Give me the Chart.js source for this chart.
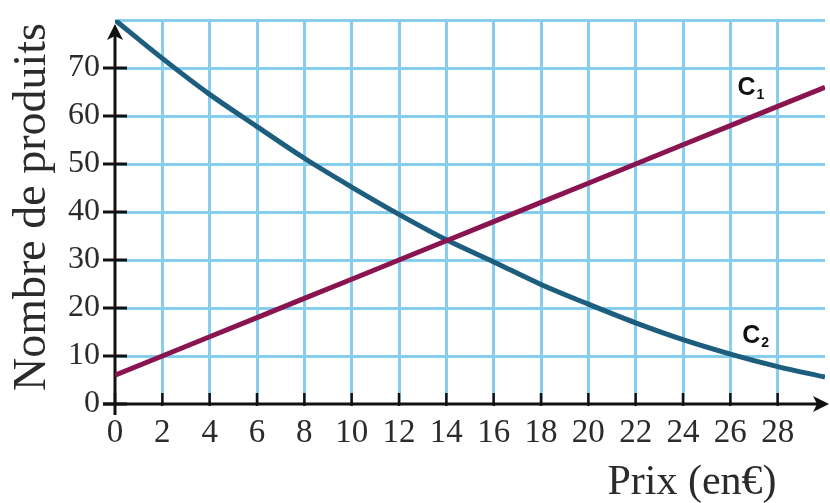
<!DOCTYPE html>
<html>
<head>
<meta charset="utf-8">
<script src="https://cdn.jsdelivr.net/npm/chart.js@4"></script>
<style>
  body { margin: 0; background: #fff; }
  #wrap { width: 830px; height: 503px; }
</style>
</head>
<body>
<div id="wrap"><canvas id="prixChart"></canvas></div>
<script>
"use strict";

// values
const prix = [0, 2, 4, 6, 8, 10, 12, 14, 16, 18, 20, 22, 24, 26, 28, 30];
const c1 = [6, 10, 14, 18, 22, 26, 30, 34, 38, 42, 46, 50, 54, 58, 62, 66];
const c2 = [80, 72, 64.5, 57.8, 51.2, 45.2, 39.5, 34.2, 29.6, 24.9, 20.8, 16.9, 13.4, 10.4, 7.8, 5.6];

const xTickLabels = ["0", "2", "4", "6", "8", "10", "12", "14", "16", "18", "20", "22", "24", "26", "28"];
const yTickLabels = ["0", "10", "20", "30", "40", "50", "60", "70"];

const xTitle = "Prix (en€)";
const yTitle = "Nombre de produits";

const gridBlue = "#86cdee";
const textGrey = "#2b2b2b";
const serif = "'Liberation Serif', 'DejaVu Serif', serif";

function points(ys) {
  return prix.map((x, i) => ({ x: x, y: ys[i] }));
}

// axes with arrows, tick marks, titles and curve names
const decorPlugin = {
  id: "decor",
  beforeDatasetsDraw(chart) {
    const { ctx, chartArea, scales } = chart;
    const x0 = scales.x.getPixelForValue(0);
    const y0 = scales.y.getPixelForValue(0);
    ctx.save();
    ctx.strokeStyle = "#111";
    ctx.fillStyle = "#111";
    ctx.lineWidth = 3;

    // tick marks
    yTickLabels.forEach((t) => {
      const y = scales.y.getPixelForValue(Number(t));
      ctx.beginPath();
      ctx.moveTo(x0 - 12, y);
      ctx.lineTo(x0 + 12, y);
      ctx.stroke();
    });
    ctx.lineWidth = 2.5;
    xTickLabels.forEach((t) => {
      const x = scales.x.getPixelForValue(Number(t));
      ctx.beginPath();
      ctx.moveTo(x, y0 - 11);
      ctx.lineTo(x, y0 + 2);
      ctx.stroke();
    });

    // y axis
    ctx.lineWidth = 3;
    ctx.beginPath();
    ctx.moveTo(x0, y0 + 11);
    ctx.lineTo(x0, chartArea.top + 14);
    ctx.stroke();
    ctx.beginPath();
    ctx.moveTo(x0, chartArea.top + 4);
    ctx.lineTo(x0 - 8, chartArea.top + 20);
    ctx.lineTo(x0, chartArea.top + 16);
    ctx.lineTo(x0 + 8, chartArea.top + 20);
    ctx.closePath();
    ctx.fill();

    // x axis
    const xr = chart.width - 1;
    ctx.beginPath();
    ctx.moveTo(x0 - 12, y0);
    ctx.lineTo(xr - 10, y0);
    ctx.stroke();
    ctx.beginPath();
    ctx.moveTo(xr, y0);
    ctx.lineTo(xr - 16, y0 - 8);
    ctx.lineTo(xr - 12, y0);
    ctx.lineTo(xr - 16, y0 + 8);
    ctx.closePath();
    ctx.fill();
    ctx.restore();
  },
  afterDraw(chart) {
    const { ctx, scales } = chart;
    ctx.save();
    ctx.fillStyle = textGrey;

    // y title
    ctx.font = "46px " + serif;
    ctx.textAlign = "center";
    ctx.textBaseline = "middle";
    ctx.translate(33, 207);
    ctx.rotate(-Math.PI / 2);
    ctx.fillText(yTitle, 0, 0);
    ctx.setTransform(1, 0, 0, 1, 0, 0);

    // x title
    ctx.font = "42px " + serif;
    ctx.textAlign = "center";
    ctx.textBaseline = "alphabetic";
    ctx.fillText(xTitle, 692, 494);

    // curve names
    const names = [
      { main: "C", sub: "1", x: 26.3, y: 64.3 },
      { main: "C", sub: "2", x: 26.5, y: 12.7 },
    ];
    ctx.fillStyle = "#111";
    ctx.textAlign = "left";
    names.forEach((n) => {
      const px = scales.x.getPixelForValue(n.x);
      const py = scales.y.getPixelForValue(n.y);
      ctx.font = "bold 25px 'Liberation Sans', Arial, sans-serif";
      ctx.fillText(n.main, px, py);
      const w = ctx.measureText(n.main).width;
      ctx.font = "bold 14px 'Liberation Sans', Arial, sans-serif";
      ctx.fillText(n.sub, px + w + 1, py + 4);
    });
    ctx.restore();
  },
};

const ctx = document.getElementById("prixChart").getContext("2d");

new Chart(ctx, {
  type: "line",
  data: {
    datasets: [
      {
        label: "C1",
        data: points(c1),
        borderColor: "#8a1450",
        borderWidth: 5,
        pointRadius: 0,
        tension: 0,
      },
      {
        label: "C2",
        data: points(c2),
        borderColor: "#1d5e7e",
        borderWidth: 5,
        pointRadius: 0,
        cubicInterpolationMode: "monotone",
      },
    ],
  },
  options: {
    responsive: true,
    maintainAspectRatio: false,
    animation: false,
    layout: { padding: { left: 0, right: 5, top: 20, bottom: 0 } },
    plugins: {
      legend: { display: false },
      tooltip: { enabled: false },
    },
    scales: {
      x: {
        type: "linear",
        min: 0,
        max: 30,
        afterFit: (scale) => {
          scale.height = 99;
          scale.paddingLeft = 0;
          scale.paddingRight = 0;
        },
        border: { display: false },
        grid: {
          drawTicks: false,
          lineWidth: 3,
          color: (c) => (c.tick.value === 0 || c.tick.value === 30 ? "rgba(0,0,0,0)" : gridBlue),
        },
        ticks: {
          stepSize: 2,
          maxRotation: 0,
          autoSkip: false,
          padding: 10,
          color: textGrey,
          font: { family: serif, size: 33 },
          callback: (v) => (xTickLabels.includes(String(v)) ? String(v) : ""),
        },
      },
      y: {
        min: 0,
        max: 80,
        afterFit: (scale) => {
          scale.width = 115;
          scale.paddingTop = 0;
          scale.paddingBottom = 0;
        },
        border: { display: false },
        grid: {
          drawTicks: false,
          lineWidth: 3,
          color: (c) => (c.tick.value === 0 ? "rgba(0,0,0,0)" : gridBlue),
        },
        ticks: {
          stepSize: 10,
          padding: 15,
          color: textGrey,
          font: { family: serif, size: 32 },
          callback: (v) => (yTickLabels.includes(String(v)) ? String(v) : ""),
        },
      },
    },
  },
  plugins: [decorPlugin],
});
</script>
</body>
</html>
